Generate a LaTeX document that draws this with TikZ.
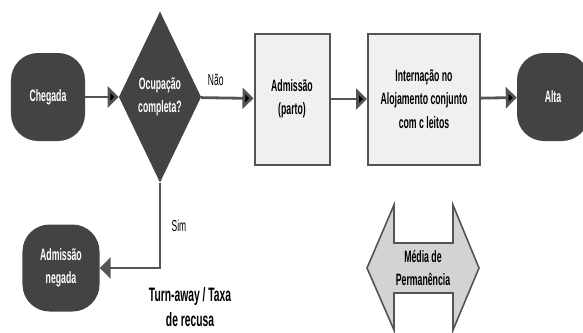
\documentclass[tikz,border=0pt]{standalone}
\usepackage{fontspec}
\setmainfont{Liberation Sans}[FakeStretch=0.53]
\usepackage{tikz}
\usetikzlibrary{shapes.geometric,arrows.meta}

\definecolor{darkfill}{HTML}{434343}
\definecolor{linegray}{HTML}{545454}
\definecolor{boxfill}{HTML}{F0F0F0}
\definecolor{arrowfill}{HTML}{D3D3D3}

\begin{document}
\begin{tikzpicture}[x=1bp,y=-1bp,
    txt/.style={font=\fontsize{16.5}{23.5}\selectfont\bfseries,align=center},
    term/.style={txt,draw=none,fill=darkfill,text=white,rounded corners=27bp,
      minimum width=74bp,minimum height=88bp},
    decision/.style={txt,diamond,fill=darkfill,text=white,inner sep=0pt,
      minimum width=76bp,minimum height=171bp},
    process/.style={txt,draw=linegray,line width=2bp,fill=boxfill,
      minimum width=75bp,minimum height=131bp},
    arr/.style={draw=linegray,line width=2.8bp,-{Triangle[length=11bp,width=21bp]}},
    lbl/.style={font=\fontsize{16}{18}\selectfont}]
  \useasboundingbox (0,0) rectangle (583,332);
  \node[term] (chegada) at (48,97) {Chegada};
  \node[decision] (ocupacao) at (160,97) {Ocupação\\completa?};
  \node[process] (admissao) at (292,99) {Admissão\\(parto)};
  \node[process,minimum width=112bp] (internacao) at (424,99) {Internação no\\Alojamento conjunto\\com c leitos};
  \node[term,minimum width=72bp] (alta) at (553,97) {Alta};
  \node[term,minimum width=77bp,minimum height=87bp] (negada) at (61,268) {Admissão\\negada};
  \node[txt,font=\fontsize{19.5}{25}\selectfont\bfseries] (recusa) at (190,307) {Turn-away / Taxa\\de recusa};
  \path [arr] (chegada) edge (ocupacao);
  \path [arr] (ocupacao) edge node[lbl,pos=0.28,above=7bp] {Não} (admissao);
  \path [arr] (admissao) edge (internacao);
  \path [arr] (internacao) edge (alta);
  \draw [arr] (ocupacao.south) |- node[lbl,pos=0.25,right=7bp] {Sim} (negada);
  % tempo medio de permanencia
  \draw[draw=linegray,line width=1.6bp,fill=arrowfill]
    (367,268) -- (394,205) -- (394,243) -- (453,243) -- (453,205) -- (479,268)
    -- (453,330) -- (453,293) -- (394,293) -- (394,330) -- cycle;
  \node[txt] (media) at (423,268) {Média de\\Permanência};
\end{tikzpicture}
\end{document}
